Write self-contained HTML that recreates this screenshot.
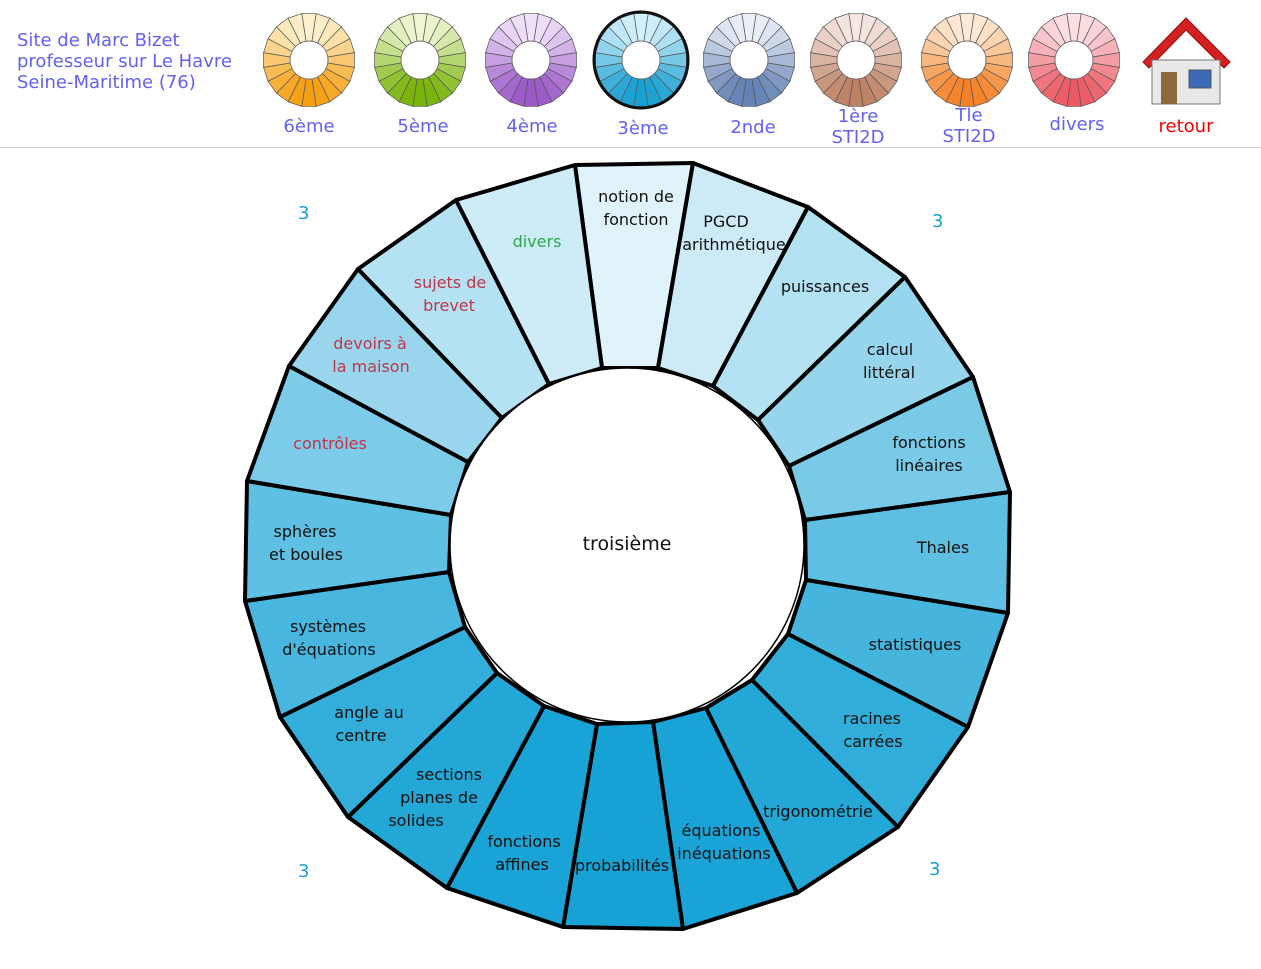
<!DOCTYPE html>
<html><head><meta charset="utf-8"><style>
html,body{margin:0;padding:0;background:#fff;width:1261px;height:969px;overflow:hidden}
svg{display:block}
.h{font-family:"DejaVu Sans","Liberation Sans",sans-serif;font-size:18px;fill:#6262ee}
.lab{font-family:"DejaVu Sans","Liberation Sans",sans-serif;font-size:16px;fill:#111;text-anchor:middle}
.red{fill:#c0344a}.grn{fill:#2aa84a}
.n{font-family:"DejaVu Sans","Liberation Sans",sans-serif;font-size:18px;fill:#1a9fd0}
</style></head><body>
<svg id="s" width="1261" height="969" viewBox="0 0 1261 969">
<g id="icons"></g>
<g id="wheel"></g>
<text class="h" x="17" y="46">Site de Marc Bizet</text>
<text class="h" x="17" y="67">professeur sur Le Havre</text>
<text class="h" x="17" y="88">Seine-Maritime (76)</text>
<g class="h" text-anchor="middle" style="font-size:18px">
<text x="309" y="132">6ème</text><text x="423" y="132">5ème</text><text x="532" y="132">4ème</text><text x="643" y="134">3ème</text><text x="753" y="133">2nde</text>
<text x="858" y="122">1ère</text><text x="858" y="143">STI2D</text>
<text x="969" y="121">Tle</text><text x="969" y="142">STI2D</text>
<text x="1077" y="130">divers</text>
<text x="1186" y="132" style="fill:#f00000">retour</text>
</g>
<g>
<polygon points="1143,62 1186,18 1230,62 1224,68 1186,30 1149,68" fill="#d42020" stroke="#901010"/>
<rect x="1152" y="60" width="68" height="44" fill="#e8e8e8" stroke="#777"/>
<rect x="1161" y="72" width="16" height="32" fill="#8a6a3a"/>
<rect x="1189" y="70" width="22" height="18" fill="#3a6ab8" stroke="#555"/>
</g>
<line x1="0" y1="147.5" x2="1261" y2="147.5" stroke="#ccc"/>
<text class="n" x="298" y="219">3</text><text class="n" x="932" y="227">3</text>
<text class="n" x="298" y="877">3</text><text class="n" x="929" y="875">3</text>
<text class="lab" x="627" y="550" style="font-size:19px">troisième</text>
<g class="lab">
<text x="636" y="202">notion de</text><text x="636" y="225">fonction</text>
<text x="726" y="227">PGCD</text><text x="734" y="250">arithmétique</text>
<text x="825" y="292">puissances</text>
<text x="890" y="355">calcul</text><text x="889" y="378">littéral</text>
<text x="929" y="448">fonctions</text><text x="929" y="471">linéaires</text>
<text x="943" y="553">Thales</text>
<text x="915" y="650">statistiques</text>
<text x="872" y="724">racines</text><text x="873" y="747">carrées</text>
<text x="818" y="817">trigonométrie</text>
<text x="721" y="836">équations</text><text x="724" y="859">inéquations</text>
<text x="622" y="871">probabilités</text>
<text x="524" y="847">fonctions</text><text x="522" y="870">affines</text>
<text x="449" y="780">sections</text><text x="439" y="803">planes de</text><text x="416" y="826">solides</text>
<text x="369" y="718">angle au</text><text x="361" y="741">centre</text>
<text x="328" y="632">systèmes</text><text x="329" y="655">d'équations</text>
<text x="305" y="537">sphères</text><text x="306" y="560">et boules</text>
<text x="330" y="449" class="red">contrôles</text>
<text x="370" y="349" class="red">devoirs à</text><text x="371" y="372" class="red">la maison</text>
<text x="450" y="288" class="red">sujets de</text><text x="449" y="311" class="red">brevet</text>
<text x="537" y="247" class="grn">divers</text>
</g>
</svg>
<script>
var NS="http://www.w3.org/2000/svg";
function el(p,t,a){var e=document.createElementNS(NS,t);for(var k in a)e.setAttribute(k,a[k]);p.appendChild(e);return e;}
var O=[[575,165],[693,163],[808,207],[905,277],[973,377],[1010,492],[1008,613],[968,727],[898,827],[797,893],[683,929],[563,927],[447,888],[348,817],[280,717],[245,601],[247,481],[289,366],[358,269],[456,200]];
var I=[[602,368],[658,368],[713,386],[758,420],[789,466],[805,520],[806,580],[788,634],[752,680],[706,708],[653,722],[597,724],[544,706],[497,673],[465,627],[449,572],[451,515],[468,462],[502,418],[549,384]];
function mix(a,b,t){return "rgb("+a.map(function(v,i){return Math.round(v+(b[i]-v)*t)}).join(",")+")";}
var w=document.getElementById("wheel");
for(var i=0;i<20;i++){var j=(i+1)%20;var cy=(O[i][1]+O[j][1])/2;var t=(cy-164)/(928-164);t=Math.pow(Math.max(0,t),0.65);
el(w,"polygon",{points:[O[i],O[j],I[j],I[i]].map(function(p){return p.join(",")}).join(" "),fill:mix([224,243,250],[22,162,213],t),stroke:"#000","stroke-width":4,"stroke-linejoin":"round"});}
el(w,"circle",{cx:627,cy:545,r:177,fill:"#fff",stroke:"#000","stroke-width":1.5});
var ic=document.getElementById("icons");
var C=[[309,60,[253,240,205],[245,160,20]],[420,60,[238,246,210],[120,180,10]],[531,60,[240,225,250],[155,90,200]],[641,60,[210,240,250],[25,160,210]],[749,60,[235,240,248],[100,130,180]],[856,60,[245,230,225],[190,130,100]],[967,60,[252,235,215],[245,130,40]],[1074,60,[252,225,228],[235,90,100]]];
C.forEach(function(c){var rx=46,ry=47;for(var i=0;i<20;i++){var a0=-Math.PI/2-Math.PI/20+i*Math.PI/10,a1=a0+Math.PI/10;var cyv=Math.sin(a0+Math.PI/20);var t=(cyv+1)/2;
var pts=[[c[0]+rx*Math.cos(a0),c[1]+ry*Math.sin(a0)],[c[0]+rx*Math.cos(a1),c[1]+ry*Math.sin(a1)],[c[0]+19*Math.cos(a1),c[1]+19*Math.sin(a1)],[c[0]+19*Math.cos(a0),c[1]+19*Math.sin(a0)]];
el(ic,"polygon",{points:pts.map(function(p){return p.join(",")}).join(" "),fill:mix(c[2],c[3],t),stroke:"#555","stroke-width":0.7});}
el(ic,"circle",{cx:c[0],cy:c[1],r:19,fill:"#fff",stroke:"#555","stroke-width":0.7});});
el(ic,"ellipse",{cx:641,cy:60,rx:47,ry:48,fill:"none",stroke:"#111","stroke-width":3});
</script>
</body></html>
